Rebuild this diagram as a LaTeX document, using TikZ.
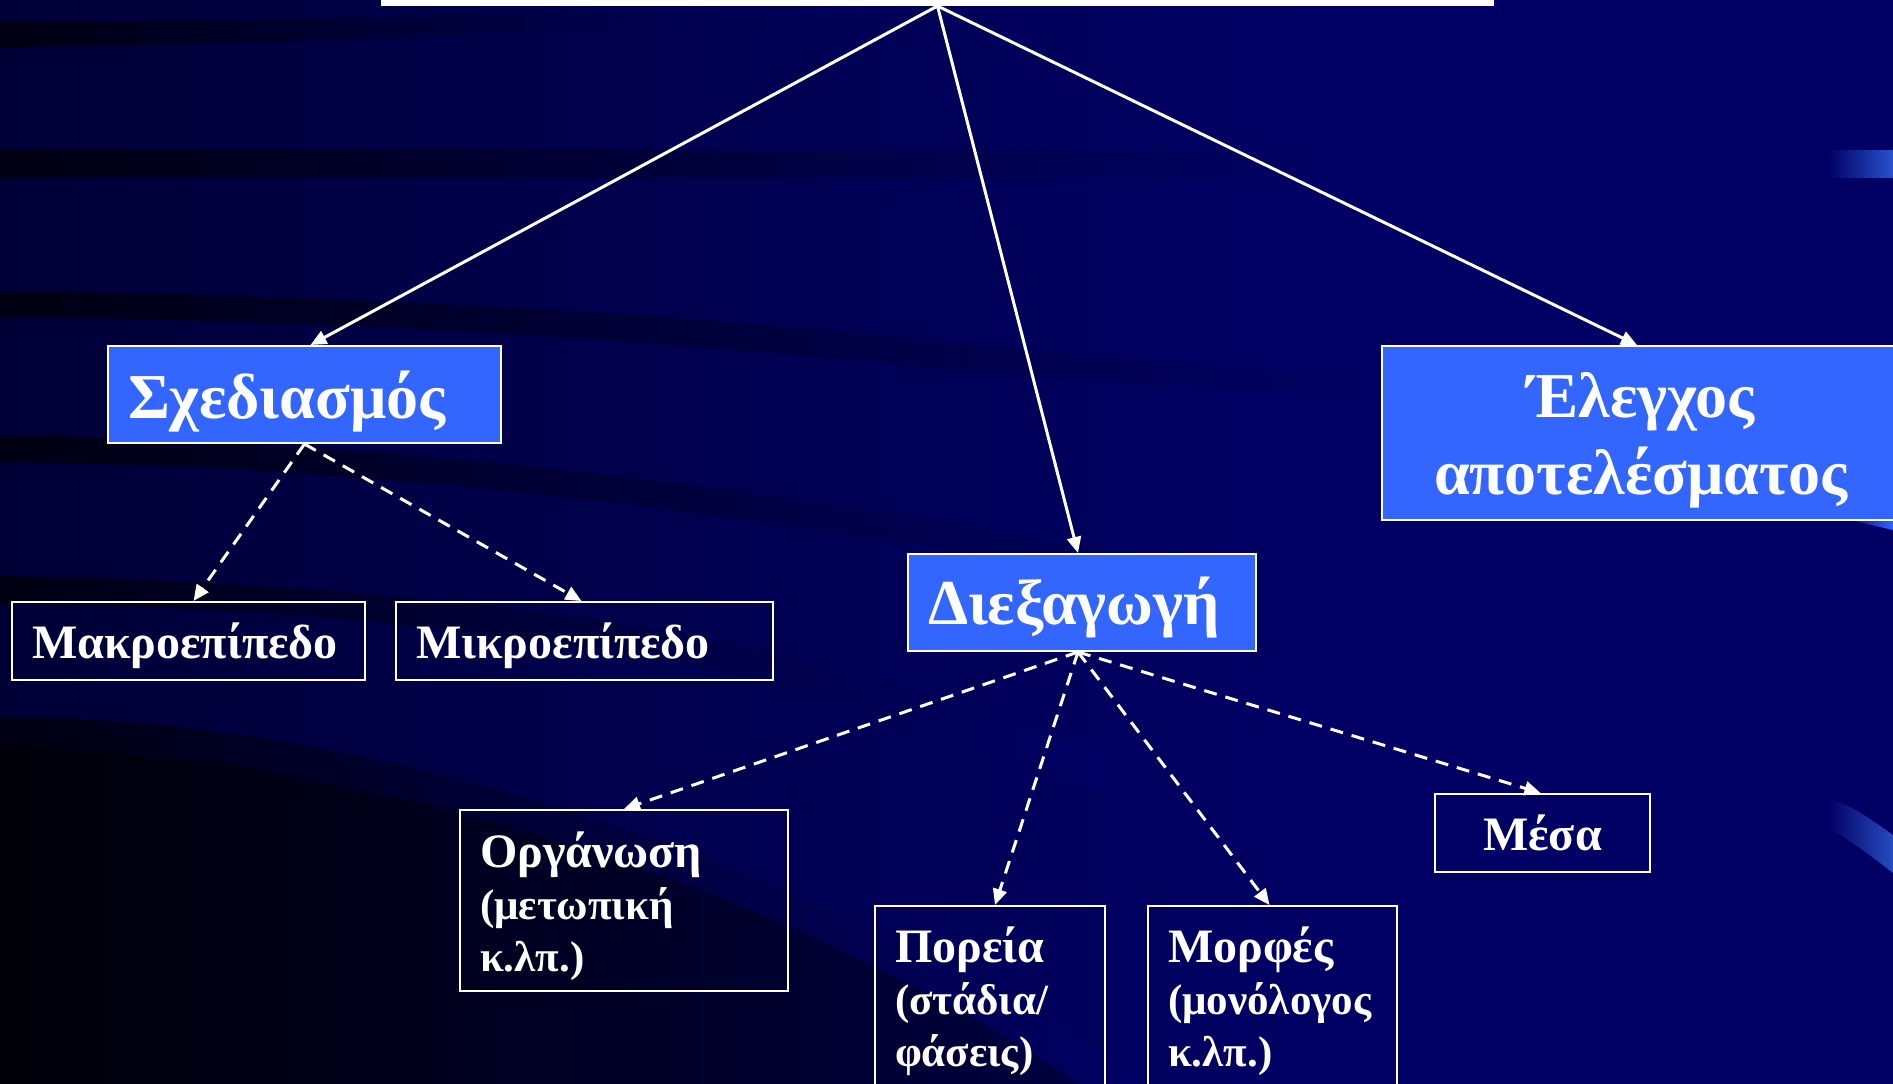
\documentclass[tikz,border=0pt]{standalone}
\usepackage{fontspec}
\setmainfont{Liberation Serif}
\usetikzlibrary{arrows.meta,calc}
\definecolor{bgc}{RGB}{0,0,100}
\definecolor{bgleft}{RGB}{0,0,55}
\definecolor{bandc}{RGB}{0,0,18}
\definecolor{darkc}{RGB}{0,0,6}
\definecolor{boxblue}{RGB}{51,102,255}
\newcommand{\subline}{\fontsize{43}{52}\selectfont}
\tikzset{
  bigtext/.style={font=\bfseries\fontsize{64}{77}\selectfont},
  smalltext/.style={font=\bfseries\fontsize{48}{52}\selectfont},
  bluebox/.style={draw=white, line width=2pt, fill=boxblue, text=white, inner ysep=0pt, inner xsep=20pt, anchor=north west, bigtext},
  darkbox/.style={draw=white, line width=2pt, text=white, inner ysep=0pt, inner xsep=20pt, anchor=north west, smalltext},
  solidarrow/.style={draw=white, line width=3pt, -{Triangle[length=16pt,width=14pt]}},
  dasharrow/.style={solidarrow, dash pattern=on 13pt off 9pt},
  band/.style={left color=bandc, right color=bgc}
}
\begin{document}
\begin{tikzpicture}[x=1pt,y=-1pt]
\useasboundingbox (0,0) rectangle (1893,1084);
\clip (0,0) rectangle (1893,1084);
% background
\fill[bgc] (0,0) rectangle (1893,1084);
\shade[left color=bgleft, right color=bgc] (0,0) rectangle (1300,1084);
% dark ribbons
\shade[band] (0,22) .. controls (300,20) and (600,14) .. (900,10) .. controls (600,30) and (300,45) .. (0,47) -- cycle;
\shade[band] (0,150) rectangle (1350,177);
\shade[band] (0,291) .. controls (400,295) and (750,320) .. (982,345) .. controls (1150,362) and (1300,372) .. (1400,375) -- (1400,397) .. controls (1300,393) and (1150,385) .. (982,373) .. controls (750,348) and (400,320) .. (0,317) -- cycle;
\shade[band] (0,435) .. controls (400,440) and (750,490) .. (982,527) .. controls (1100,548) and (1200,568) .. (1280,585) -- (1280,612) .. controls (1200,595) and (1100,575) .. (982,555) .. controls (750,518) and (400,465) .. (0,462) -- cycle;
\shade[band] (0,576) .. controls (350,580) and (650,620) .. (804,660) .. controls (950,700) and (1050,730) .. (1116,759) -- (1116,797) .. controls (1050,765) and (950,735) .. (804,692) .. controls (650,650) and (350,605) .. (0,604) -- cycle;
\shade[left color=bandc, right color=bgc] (0,717) .. controls (350,715) and (800,850) .. (1150,1084) -- (0,1084) -- cycle;
\shade[left color=darkc, right color=bgleft, opacity=0.8] (0,747) .. controls (330,750) and (760,870) .. (1080,1084) -- (0,1084) -- cycle;
% blue ribbon ends at the right edge
\shade[left color=bgc, middle color=boxblue, right color=boxblue!80!black] (1828,150) rectangle (1893,177);
\shade[left color=bgc, middle color=boxblue, right color=boxblue!75!black] (1828,798) .. controls (1850,805) and (1865,815) .. (1893,835) -- (1893,873) .. controls (1870,855) and (1850,840) .. (1828,828) -- cycle;
\shade[left color=bgc, right color=boxblue] (1845,519) -- (1893,519) -- (1893,530) -- cycle;
% title box (cut off)
\node[fill=white, minimum width=1113pt, minimum height=30pt, inner sep=0pt, anchor=south] (top) at (937.5,6) {};
% boxes
\node[bluebox, text width=353pt, align=left, text height=72pt, text depth=25pt] (sx) at (107,345) {Σχεδιασμός};
\node[bluebox, text width=308pt, align=left, text height=70pt, text depth=27pt] (dx) at (907,553) {Διεξαγωγή};
\node[bluebox, text width=478pt, align=center, text height=71pt, text depth=103pt] (ex) at (1381,345) {Έλεγχος\\αποτελέσματος};
\node[darkbox, text width=313pt, align=left, text height=56pt, text depth=22pt] (mak) at (11,601) {Μακροεπίπεδο};
\node[darkbox, text width=337pt, align=left, text height=56pt, text depth=22pt] (mik) at (395,601) {Μικροεπίπεδο};
\node[darkbox, text width=288pt, align=left, text height=57pt, text depth=124pt] (org) at (459,809) {Οργάνωση\\\subline (μετωπική\\κ.λπ.)};
\node[darkbox, text width=190pt, align=left, text height=56pt, text depth=139pt] (por) at (874,905) {Πορεία\\\subline (στάδια/\\φάσεις)};
\node[darkbox, text width=209pt, align=left, text height=56pt, text depth=139pt] (mor) at (1147,905) {Μορφές\\\subline (μονόλογος\\κ.λπ.)};
\node[darkbox, text width=175pt, align=center, text height=56pt, text depth=22pt] (mes) at (1434,793) {Μέσα};
% connectors
\draw[solidarrow] (top.south) -- ($(sx.north)+(6,0)$);
\draw[solidarrow] (top.south) -- ($(dx.north)+(-4,0)$);
\draw[solidarrow] (top.south) -- ($(ex.north)+(-4,0)$);
\draw[dasharrow] (sx.south) -- ($(mak.north)+(5,0)$);
\draw[dasharrow] (sx.south) -- ($(mik.north)+(-3,0)$);
\draw[dasharrow] ($(dx.south)+(-4,0)$) -- (org.north);
\draw[dasharrow] ($(dx.south)+(-4,0)$) -- ($(por.north)+(5,0)$);
\draw[dasharrow] ($(dx.south)+(-4,0)$) -- ($(mor.north)+(-3,0)$);
\draw[dasharrow] ($(dx.south)+(-4,0)$) -- ($(mes.north)+(-2,0)$);
\end{tikzpicture}
\end{document}
